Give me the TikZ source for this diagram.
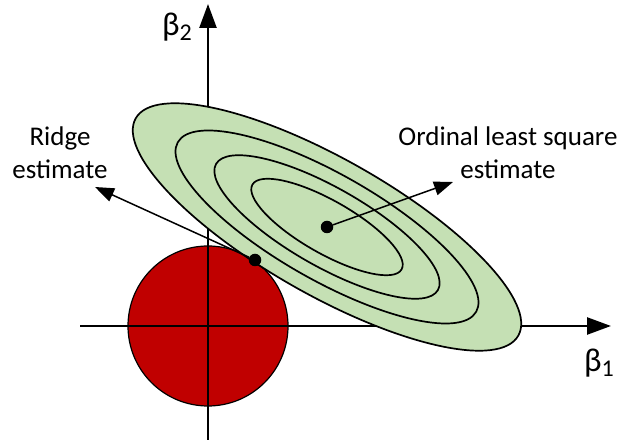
\documentclass[tikz,border=0pt]{standalone}
\usepackage{fontspec}
\setmainfont{Carlito}
\usetikzlibrary{arrows.meta}
\definecolor{lsgreen}{HTML}{C5E0B4}
\definecolor{ridgered}{HTML}{C00000}
\newcommand{\betasub}[1]{{\fontsize{33}{33}\selectfont β}\raisebox{-.2em}{\fontsize{24}{24}\selectfont #1}}
\tikzset{>=Stealth,every node/.style={font=\fontsize{27}{33}\selectfont},axis/.style={line width=2.5pt,-{Triangle[length=24pt,width=17pt]}},contour/.style={line width=1.7pt},pointer/.style={line width=1.5pt,-{Triangle[length=19pt,width=14pt]}},estdot/.style={circle,fill,inner sep=0pt,minimum size=12.5pt}}

\begin{document}
\begin{tikzpicture}[x=1pt,y=1pt]
\useasboundingbox (0,0) rectangle (634,446);
% penalty region and axes
\draw[line width=1.2pt,fill=ridgered] (208,120) circle (80);
\coordinate (ybot) at (208,6);\coordinate (ytop) at (208,442);\coordinate (xleft) at (80,120);\coordinate (xright) at (611,120);
\draw[axis] (ybot)--(ytop);\draw[axis] (xleft)--(xright);
% contours of the least squares loss
\draw[contour,fill=lsgreen,rotate around={-29.6:(327,219)}] (327,219) ellipse [x radius=220,y radius=68];
\foreach \s in {.78,.58,.39} \draw[contour,rotate around={-29.6:(327,219)}] (327,219) ellipse [x radius=220*\s,y radius=68*\s];
% estimates
\node[estdot] (ols) at (327,219){};\node[estdot] (ridge) at (255,186){};
\coordinate (olstip) at (453,264);\coordinate (ridgetip) at (95,259);
\draw[pointer] (ols)--(olstip);\draw[pointer] (ridge)--(ridgetip);
\node[align=center] (ridgelbl) at (60,293){Ridge\\estimate};
\node[align=center] (olslbl) at (508,293){Ordinal least square\\estimate};
\node (b2) at (177,419){\betasub{2}};\node (b1) at (599,83){\betasub{1}};
\end{tikzpicture}
\end{document}
